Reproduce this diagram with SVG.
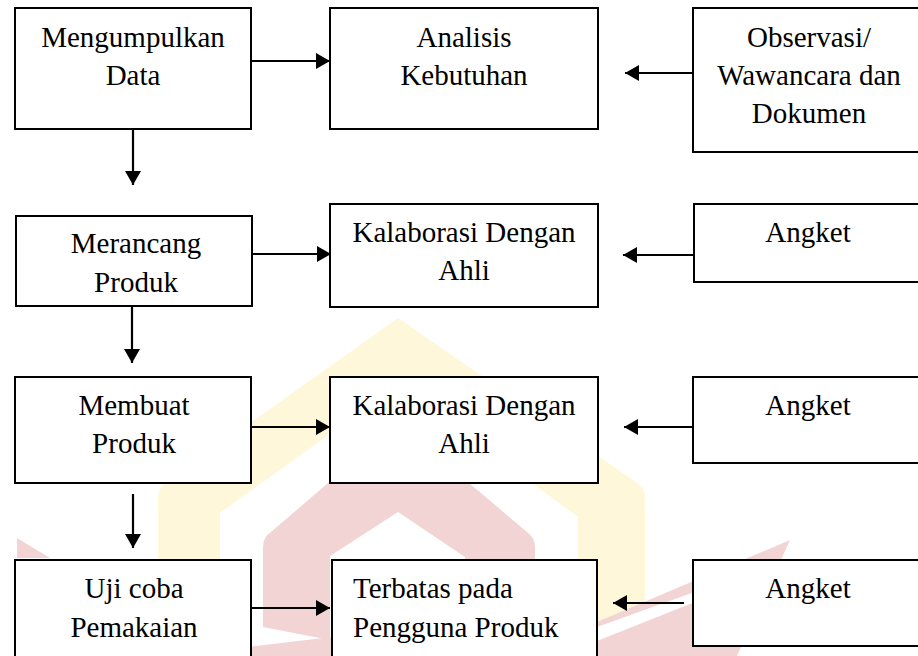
<svg xmlns="http://www.w3.org/2000/svg" width="918" height="656" viewBox="0 0 918 656">
<style>
.box{fill:#ffffff;stroke:#000000;stroke-width:2}
.t{font-family:"Liberation Serif","Times New Roman",serif;font-size:29px;fill:#000000}
.c{text-anchor:middle}
.con{stroke:#000000;stroke-width:2.2;fill:none;marker-end:url(#ah)}
.wy{fill:#fff7d9}
.wp{fill:#f2d4d4}
</style>
<defs>
<marker id="ah" markerUnits="userSpaceOnUse" markerWidth="14" markerHeight="16" viewBox="0 0 14 16" refX="14" refY="8" orient="auto">
<path d="M0,0 L14,8 L0,16 Z" fill="#000000"/>
</marker>
</defs>
<rect width="918" height="656" fill="#ffffff"/>
<g id="watermark">
<path class="wy" d="M158,656 L158,497 Q158,487 167,482 L398,318 L636,482 Q645,488 645,497 L645,603 L578,630 L578,517 L398,385 L220,513 L220,656 Z"/>
<path class="wp" d="M263,627 L263,547 Q263,537 271,532 L398,423 L527,532 Q535,538 535,547 L535,600 L465,600 L465,557 L398,512 L330,556 L330,640 Z"/>
<path class="wp" d="M17,538 L50,558 L17,558 Z"/>
<path class="wp" d="M240,656 L240,648 L340,636 L340,656 Z"/>
<path class="wp" d="M597,622 L790,540 L737,656 L597,656 Z"/>
<path fill="#ffffff" d="M597,627 L700,590 L700,600 L597,641 Z"/>
</g>
<g id="connectors">
<line class="con" x1="251" y1="61" x2="330" y2="61"/>
<line class="con" x1="695" y1="73" x2="625" y2="73"/>
<line class="con" x1="133" y1="129" x2="133" y2="185"/>
<line class="con" x1="252" y1="254" x2="331" y2="254"/>
<line class="con" x1="694" y1="255" x2="623" y2="255"/>
<line class="con" x1="132" y1="306" x2="132" y2="363"/>
<line class="con" x1="251" y1="427" x2="330" y2="427"/>
<line class="con" x1="695" y1="427" x2="624" y2="427"/>
<line class="con" x1="133" y1="494" x2="133" y2="548"/>
<line class="con" x1="251" y1="608" x2="330" y2="608"/>
<line class="con" x1="684" y1="603" x2="613" y2="603"/>
</g>
<g id="n1">
<rect class="box" x="15" y="8" width="236" height="121"/>
<text class="t c" x="133" y="47">Mengumpulkan</text>
<text class="t c" x="133" y="85">Data</text>
</g>
<g id="n2">
<rect class="box" x="330" y="8" width="268" height="121"/>
<text class="t c" x="464" y="47">Analisis</text>
<text class="t c" x="464" y="85">Kebutuhan</text>
</g>
<g id="n3">
<rect class="box" x="693" y="8" width="240" height="144"/>
<text class="t c" x="809" y="47">Observasi/</text>
<text class="t c" x="809" y="85">Wawancara dan</text>
<text class="t c" x="809" y="123">Dokumen</text>
</g>
<g id="n4">
<rect class="box" x="16" y="216" width="236" height="90"/>
<text class="t c" x="136" y="253">Merancang</text>
<text class="t c" x="136" y="292">Produk</text>
</g>
<g id="n5">
<rect class="box" x="330" y="204" width="268" height="103"/>
<text class="t c" x="464" y="242">Kalaborasi Dengan</text>
<text class="t c" x="464" y="280">Ahli</text>
</g>
<g id="n6">
<rect class="box" x="694" y="204" width="240" height="78"/>
<text class="t c" x="808" y="242">Angket</text>
</g>
<g id="n7">
<rect class="box" x="15" y="377" width="236" height="106"/>
<text class="t c" x="134" y="415">Membuat</text>
<text class="t c" x="134" y="453">Produk</text>
</g>
<g id="n8">
<rect class="box" x="330" y="377" width="268" height="106"/>
<text class="t c" x="464" y="415">Kalaborasi Dengan</text>
<text class="t c" x="464" y="453">Ahli</text>
</g>
<g id="n9">
<rect class="box" x="693" y="377" width="240" height="86"/>
<text class="t c" x="808" y="415">Angket</text>
</g>
<g id="n10">
<rect class="box" x="15" y="560" width="236" height="110"/>
<text class="t c" x="134" y="598">Uji coba</text>
<text class="t c" x="134" y="637">Pemakaian</text>
</g>
<g id="n11">
<rect class="box" x="332" y="560" width="265" height="110"/>
<text class="t" x="353" y="598">Terbatas pada</text>
<text class="t" x="353" y="637">Pengguna Produk</text>
</g>
<g id="n12">
<rect class="box" x="693" y="560" width="240" height="86"/>
<text class="t c" x="808" y="598">Angket</text>
</g>
</svg>
